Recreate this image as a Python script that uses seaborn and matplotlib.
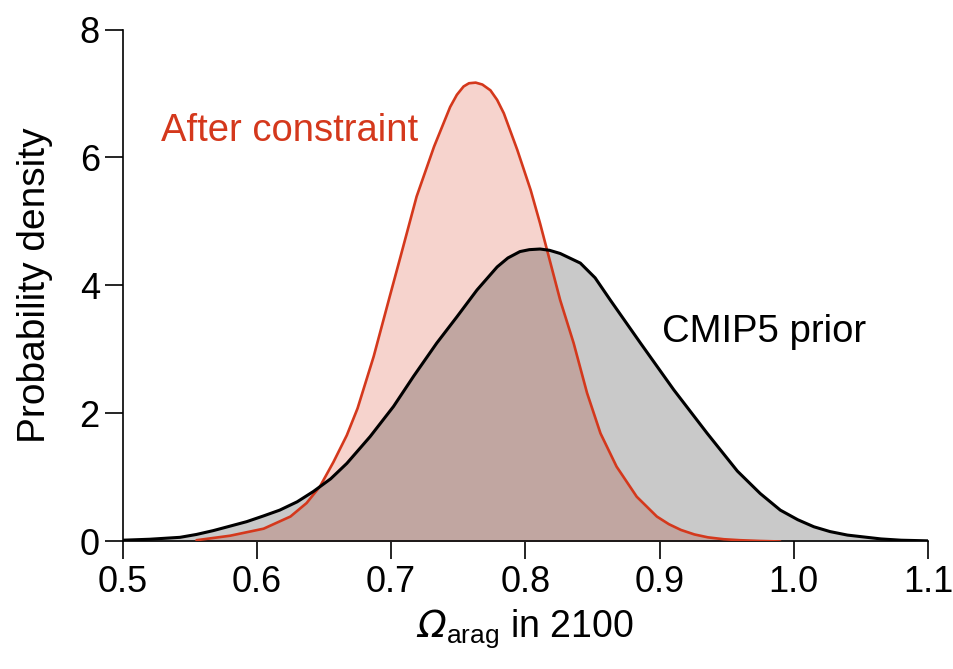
import numpy as np
import pandas as pd
import matplotlib
matplotlib.use("Agg")
import matplotlib.pyplot as plt
import seaborn as sns

# ---- data ----
x_post = [0.555, 0.58, 0.605, 0.625, 0.637, 0.647, 0.657, 0.667, 0.675, 0.687,
          0.699, 0.707, 0.719, 0.732, 0.744, 0.749, 0.754, 0.758, 0.763, 0.768,
          0.774, 0.779, 0.784, 0.794, 0.804, 0.811, 0.8175, 0.826, 0.836, 0.846,
          0.856, 0.868, 0.883, 0.898, 0.907, 0.916, 0.926, 0.936, 0.948, 0.96,
          0.975, 0.99]
y_post = [0.02, 0.09, 0.20, 0.39, 0.60, 0.86, 1.24, 1.66, 2.08, 2.89,
          3.83, 4.45, 5.39, 6.17, 6.79, 6.98, 7.11, 7.16, 7.17, 7.14,
          7.05, 6.90, 6.69, 6.12, 5.49, 4.97, 4.45, 3.77, 3.10, 2.32,
          1.69, 1.17, 0.70, 0.39, 0.27, 0.18, 0.11, 0.065, 0.035, 0.02,
          0.008, 0.0]

x_prior = [0.50, 0.52, 0.5427, 0.555, 0.5675, 0.58, 0.5924, 0.605, 0.617, 0.63,
           0.642, 0.655, 0.667, 0.6844, 0.7018, 0.7167, 0.734, 0.749, 0.764,
           0.779, 0.787, 0.796, 0.803, 0.811, 0.818, 0.826, 0.841, 0.852,
           0.8634, 0.8858, 0.9106, 0.9355, 0.958, 0.975, 0.99, 1.003, 1.015,
           1.027, 1.04, 1.065, 1.08, 1.10]
y_prior = [0.02, 0.035, 0.065, 0.11, 0.17, 0.24, 0.31, 0.40, 0.49, 0.62,
           0.78, 0.98, 1.22, 1.64, 2.11, 2.58, 3.10, 3.51, 3.93,
           4.29, 4.43, 4.53, 4.56, 4.57, 4.55, 4.50, 4.35, 4.12,
           3.77, 3.10, 2.37, 1.69, 1.10, 0.75, 0.49, 0.34, 0.23,
           0.155, 0.10, 0.04, 0.02, 0.01]

x_ticks = [0.5, 0.6, 0.7, 0.8, 0.9, 1.0, 1.1]
x_tick_labels = ["0.5", "0.6", "0.7", "0.8", "0.9", "1.0", "1.1"]
y_ticks = [0, 2, 4, 6, 8]
label_post = "After constraint"
label_prior = "CMIP5 prior"
x_label = "$\u03a9_{\\mathsf{arag}}$ in 2100"
y_label = "Probability density"

post = pd.DataFrame({"x": x_post, "y": y_post})
prior = pd.DataFrame({"x": x_prior, "y": y_prior})

sns.set_theme(style="ticks")
plt.rcParams["font.family"] = ["Liberation Sans", "DejaVu Sans"]
plt.rcParams["mathtext.fontset"] = "custom"
# Greek capitals are set in the mathtext 'rm' font -> make it an oblique face
plt.rcParams["mathtext.rm"] = "DejaVu Sans:italic"
plt.rcParams["mathtext.it"] = "DejaVu Sans:italic"
plt.rcParams["mathtext.sf"] = "Liberation Sans"

RED = "#d4381c"
PINK = "#f6d3cd"

fig = plt.figure(figsize=(9.54, 6.69), dpi=100)
ax = fig.add_axes([0.1286, 0.1906, 0.8441, 0.7653])

ax.fill_between(post["x"], 0, post["y"], color=PINK, lw=0, zorder=1)
ax.fill_between(prior["x"], 0, prior["y"], color="black", alpha=0.21, lw=0, zorder=2)
sns.lineplot(data=post, x="x", y="y", color=RED, linewidth=1.9, ax=ax, zorder=3,
             sort=False, solid_joinstyle="round", solid_capstyle="round")
sns.lineplot(data=prior, x="x", y="y", color="black", linewidth=2.2, ax=ax, zorder=4,
             sort=False, solid_joinstyle="round", solid_capstyle="round")

ax.set_xlim(0.5, 1.1)
ax.set_ylim(0, 8)
ax.set_xticks(x_ticks)
ax.set_xticklabels(x_tick_labels)
ax.set_yticks(y_ticks)

for s in ["top", "right"]:
    ax.spines[s].set_visible(False)
for s in ["left", "bottom"]:
    ax.spines[s].set_linewidth(1.2)
    ax.spines[s].set_color("black")
ax.tick_params(axis="both", direction="out", length=13, width=1.2, colors="black",
               labelsize=26)
ax.tick_params(axis="x", pad=4)
ax.tick_params(axis="y", pad=3.5)

ax.set_xlabel(x_label, fontsize=27, labelpad=5, color="black")
ax.set_ylabel(y_label, fontsize=28, labelpad=19, color="black")

ax.text(0.5286, 6.25, label_post, color=RED, fontsize=27.5, ha="left", va="baseline")
ax.text(0.902, 3.11, label_prior, color="black", fontsize=27.5, ha="left", va="baseline")

fig.savefig("out.png", dpi=100)
